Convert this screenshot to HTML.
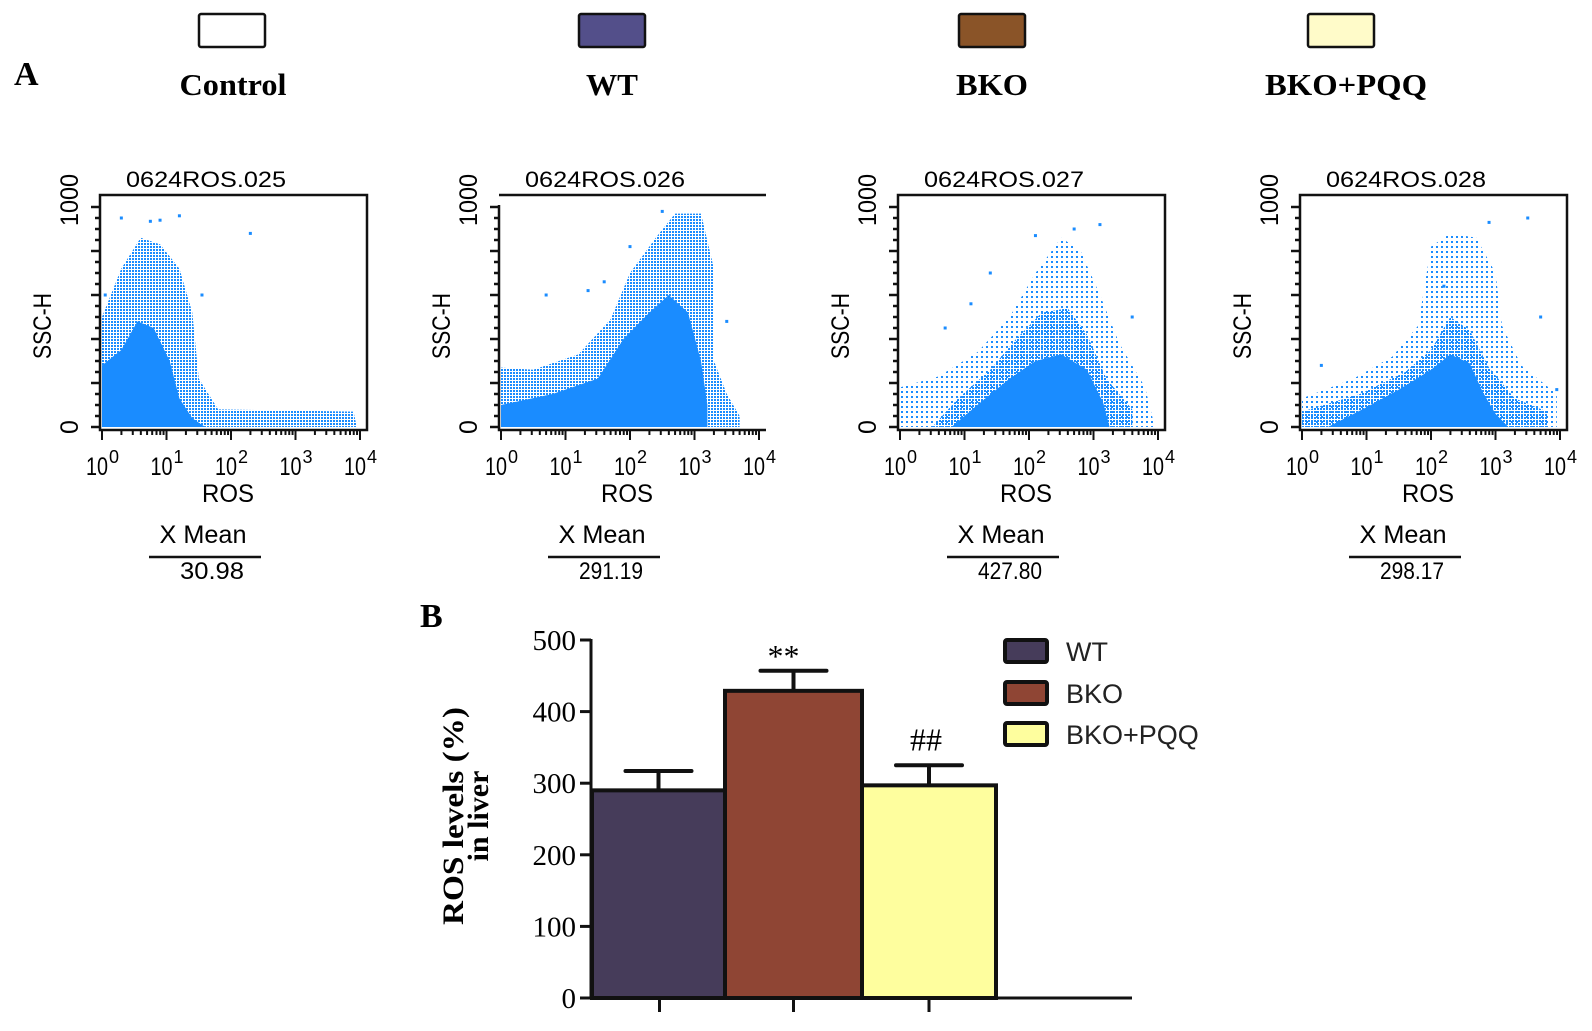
<!DOCTYPE html>
<html><head><meta charset="utf-8"><title>ROS flow cytometry and bar chart</title>
<style>
html,body{margin:0;padding:0;background:#fff;}
svg{display:block;}
.sans{font-family:"Liberation Sans",sans-serif;}
.serif{font-family:"Liberation Serif",serif;}
</style></head>
<body>
<svg id="fig" width="1592" height="1031" viewBox="0 0 1592 1031" xmlns="http://www.w3.org/2000/svg">
<defs>
<pattern id="midDots" width="3" height="3" patternUnits="userSpaceOnUse"><rect x="0" y="0" width="2" height="2" fill="#1a8cff"/></pattern>
<pattern id="lightDots" width="5" height="5" patternUnits="userSpaceOnUse"><rect x="1" y="1" width="2" height="2" fill="#1a8cff"/></pattern>
</defs>
<g id="header"></g>
<g id="panelA"></g>
<g id="panelB"></g>
</svg>
<script>
// ---------- Panel A data ----------
const groupNames = ["Control", "WT", "BKO", "BKO+PQQ"];
const groupColors = ["#ffffff", "#534f8a", "#8a5428", "#fffbc9"];
const plotTitles = ["0624ROS.025", "0624ROS.026", "0624ROS.027", "0624ROS.028"];
const xMeanValues = ["30.98", "291.19", "427.80", "298.17"];
const xTickExps = ["0", "1", "2", "3", "4"];
// scatter regions in data coords: [log10(ROS), SSC-H]
const outer1 = [[0,0],[0,500],[0.3,720],[0.6,860],[0.9,830],[1.2,720],[1.4,520],[1.5,220],[1.8,80],[3.9,70],[3.95,0]];
const inner1 = [[0,0],[0,420],[0.3,560],[0.6,650],[0.9,620],[1.15,480],[1.35,250],[1.6,60],[3.6,45],[3.6,0]];
const core1 = [[0,0],[0,280],[0.3,350],[0.55,480],[0.8,450],[1.05,300],[1.2,130],[1.4,40],[1.6,0]];
const dots1 = [[0.3,950],[0.9,940],[1.2,960],[0.75,935],[2.3,880],[0.05,600],[1.55,600]];
const outer2 = [[0,0],[0,270],[0.5,260],[1.2,330],[1.7,490],[2.0,700],[2.4,860],[2.7,970],[3.1,970],[3.3,720],[3.3,300],[3.5,150],[3.7,50],[3.7,0]];
const inner2 = [[0,0],[0,200],[0.7,210],[1.3,270],[1.8,420],[2.2,620],[2.5,760],[2.9,800],[3.1,600],[3.25,250],[3.4,60],[3.4,0]];
const core2 = [[0,0],[0,100],[0.8,150],[1.5,220],[1.9,400],[2.3,520],[2.6,600],[2.9,520],[3.1,300],[3.2,100],[3.2,0]];
const dots2 = [[0.7,600],[1.35,620],[1.6,660],[2.0,820],[3.5,480],[2.5,980]];
const outer3 = [[0,0],[0,180],[0.6,230],[1.2,340],[1.7,500],[2.1,700],[2.5,860],[2.8,800],[3.1,600],[3.4,380],[3.8,180],[3.95,0]];
const inner3 = [[0.5,0],[0.9,130],[1.4,260],[1.8,400],[2.2,520],[2.6,540],[2.9,420],[3.2,220],[3.6,80],[3.6,0]];
const core3 = [[0.8,0],[1.2,100],[1.7,220],[2.1,300],[2.5,330],[2.9,260],[3.15,110],[3.25,0]];
const dots3 = [[1.4,700],[2.1,870],[3.1,920],[3.6,500],[0.7,450],[1.1,560],[2.7,900]];
const outer4 = [[0,0],[0,130],[0.8,220],[1.4,320],[1.8,460],[2.0,820],[2.3,880],[2.7,860],[3.0,700],[3.1,460],[3.4,280],[3.95,150],[3.95,0]];
const inner4 = [[0,0],[0,70],[0.9,150],[1.6,250],[2.0,350],[2.3,500],[2.6,440],[2.9,270],[3.3,130],[3.8,70],[3.8,0]];
const core4 = [[0.4,0],[1.0,90],[1.5,170],[2.0,260],[2.3,330],[2.6,290],[2.8,160],[3.0,60],[3.2,0]];
const dots4 = [[3.5,950],[2.9,930],[3.7,500],[0.3,280],[2.2,640],[3.95,170]];
const outers = [outer1, outer2, outer3, outer4];
const inners = [inner1, inner2, inner3, inner4];
const cores = [core1, core2, core3, core4];
const dotsets = [dots1, dots2, dots3, dots4];

// ---------- Panel B data ----------
const barCategories = ["WT", "BKO", "BKO+PQQ"];
const barValues = [290, 429, 297];
const barErrors = [27, 28, 28];
const barSigLabels = ["", "**", "##"];
const barColors = ["#463c5a", "#8f4534", "#fefe9e"];
const yTicks = [0, 100, 200, 300, 400, 500];

const NS = "http://www.w3.org/2000/svg";
function mk(tag, parent, attrs, txt) {
  const e = document.createElementNS(NS, tag);
  for (const k in attrs) e.setAttribute(k, attrs[k]);
  if (txt !== undefined) e.textContent = txt;
  parent.appendChild(e);
  return e;
}

// ---------- Header ----------
const header = document.getElementById("header");
const boxX = [199, 579, 959, 1308];
const labelCx = [233, 612, 992, 1346];
const labelW = [107, 52, 72, 162];
for (let i = 0; i < groupNames.length; i++) {
  const b = mk("rect", header, {x: boxX[i], y: 14, width: 66, height: 33, rx: 2, fill: groupColors[i], stroke: "#111", "stroke-width": 2.5});
  
  
  const t = mk("text", header, {x: labelCx[i], y: 95, "text-anchor": "middle", "font-size": 31, "font-weight": "bold", class: "serif", textLength: labelW[i], lengthAdjust: "spacingAndGlyphs"}, groupNames[i]);
  
  
}
const letterA = mk("text", header, {x: 14, y: 85, "font-size": 34, "font-weight": "bold", class: "serif"}, "A");



// ---------- Panel A plots ----------
const panelA = document.getElementById("panelA");
const plotOffsets = [0, 399, 798, 1200];
function polyStr(pts, xs, ys) { return pts.map(p => xs(p[0]).toFixed(1) + "," + ys(p[1]).toFixed(1)).join(" "); }

for (let i = 0; i < 4; i++) {
  const ox = plotOffsets[i];
  const xs = v => ox + 102 + v * 64.5;
  const ys = v => 427 - v * 0.22;
  const g = mk("g", panelA, {});
  
  

  const o = mk("polygon", g, {points: polyStr(outers[i], xs, ys), fill: i < 2 ? "url(#midDots)" : "url(#lightDots)"});
  
  
  const inn = mk("polygon", g, {points: polyStr(inners[i], xs, ys), fill: "url(#midDots)"});
  
  
  const c = mk("polygon", g, {points: polyStr(cores[i], xs, ys), fill: "#1a8cff"});
  
  
  for (const d of dotsets[i]) {
    const dot = mk("rect", g, {x: xs(d[0]) - 1.5, y: ys(d[1]) - 1.5, width: 3, height: 3, fill: "#1a8cff"});
    
    
  }

  // frame
  const L = ox + 100, R = ox + 367, T = 195, B = 430;
  let frame;
  if (i === 1) {
    frame = mk("path", g, {d: `M${L},${T} H${R} M${L},${T + 10} V${B} H${R}`, fill: "none", stroke: "#111", "stroke-width": 2.5});
  } else {
    frame = mk("rect", g, {x: L, y: T, width: R - L, height: B - T, fill: "none", stroke: "#111", "stroke-width": 2.5});
  }
  
  

  // y ticks
  for (let v = 0; v <= 1000; v += 50) {
    const len = (v % 200 === 0 || v === 1000) ? 9 : 5;
    const tk = mk("line", g, {x1: L, x2: L - len, y1: ys(v), y2: ys(v), stroke: "#111", "stroke-width": 2.5});
    
    
  }
  // x ticks (log)
  for (let dec = 0; dec < 4; dec++) {
    for (let m = 1; m <= 9; m++) {
      const lv = dec + Math.log10(m);
      const len = m === 1 ? 10 : 5;
      const tk = mk("line", g, {x1: xs(lv), x2: xs(lv), y1: B, y2: B + len, stroke: "#111", "stroke-width": 2});
      
      
    }
  }
  const tk4 = mk("line", g, {x1: xs(4), x2: xs(4), y1: B, y2: B + 10, stroke: "#111", "stroke-width": 2});
  
  

  // x tick labels
  for (let k = 0; k < xTickExps.length; k++) {
    const t = mk("text", g, {x: xs(k) - 16, y: 475, "font-size": 25, class: "sans", textLength: 22, lengthAdjust: "spacingAndGlyphs"}, "10");
    
    
    const s = mk("text", g, {x: xs(k) + 7, y: 463, "font-size": 18, class: "sans"}, xTickExps[k]);
    
    
  }
  const title = mk("text", g, {x: ox + 126, y: 187, "font-size": 22, class: "sans", textLength: 160, lengthAdjust: "spacingAndGlyphs"}, plotTitles[i]);
  
  
  const y1000 = mk("text", g, {x: 0, y: 0, "font-size": 25, class: "sans", "text-anchor": "middle", textLength: 52, lengthAdjust: "spacingAndGlyphs", transform: `translate(${ox + 78},${200}) rotate(-90)`}, "1000");
  
  
  const y0 = mk("text", g, {x: 0, y: 0, "font-size": 25, class: "sans", "text-anchor": "middle", transform: `translate(${ox + 78},${427}) rotate(-90)`}, "0");
  
  
  const yl = mk("text", g, {x: 0, y: 0, "font-size": 25, class: "sans", "text-anchor": "middle", textLength: 66, lengthAdjust: "spacingAndGlyphs", transform: `translate(${ox + 51},${326}) rotate(-90)`}, "SSC-H");
  
  
  const xl = mk("text", g, {x: ox + 228, y: 502, "font-size": 25, class: "sans", "text-anchor": "middle", textLength: 52, lengthAdjust: "spacingAndGlyphs"}, "ROS");
  
  
  const xm = mk("text", g, {x: ox + 203, y: 543, "font-size": 25, class: "sans", "text-anchor": "middle", textLength: 87, lengthAdjust: "spacingAndGlyphs"}, "X Mean");
  
  
  const ln = mk("line", g, {x1: ox + 149, x2: ox + 261, y1: 557, y2: 557, stroke: "#111", "stroke-width": 2.5});
  
  
  const mv = mk("text", g, {x: ox + 212, y: 579, "font-size": 24, class: "sans", "text-anchor": "middle", textLength: 64, lengthAdjust: "spacingAndGlyphs"}, xMeanValues[i]);
  
  
}

// ---------- Panel B ----------
const pb = document.getElementById("panelB");
const axX = 591, y0px = 998, pxPerUnit = (998 - 640) / 500;
const ysB = v => y0px - v * pxPerUnit;
const barLeft = [592, 725, 862], barRight = [725, 862, 996];
const letterB = mk("text", pb, {x: 420, y: 627, "font-size": 34, "font-weight": "bold", class: "serif"}, "B");



for (let i = 0; i < barCategories.length; i++) {
  const xc = (barLeft[i] + barRight[i]) / 2;
  const top = ysB(barValues[i] + barErrors[i]);
  const el = mk("path", pb, {d: `M${xc},${ysB(barValues[i])} V${top} M${xc - 33},${top} H${xc + 33}`, stroke: "#111", "stroke-width": 4, fill: "none", "stroke-linecap": "round"});
  
  
  const r = mk("rect", pb, {x: barLeft[i], y: ysB(barValues[i]), width: barRight[i] - barLeft[i], height: y0px - ysB(barValues[i]), fill: barColors[i], stroke: "#111", "stroke-width": 4});
  
  
  if (barSigLabels[i]) {
    const s = mk("text", pb, {x: xc - (i === 1 ? 10 : 3), y: top - (i === 1 ? 4 : 15), "font-size": 32, class: "serif", "text-anchor": "middle"}, barSigLabels[i]);
    
    
  }
  const tk = mk("line", pb, {x1: xc + (i === 0 ? 1 : 0), x2: xc + (i === 0 ? 1 : 0), y1: y0px, y2: 1012, stroke: "#111", "stroke-width": 3});
  
  
}
const yAxis = mk("line", pb, {x1: axX, x2: axX, y1: ysB(500) - 1, y2: y0px, stroke: "#111", "stroke-width": 3});


const xAxis = mk("line", pb, {x1: 580, x2: 1132, y1: y0px, y2: y0px, stroke: "#111", "stroke-width": 3});


for (const v of yTicks) {
  const t = mk("line", pb, {x1: 580, x2: axX, y1: ysB(v), y2: ysB(v), stroke: "#111", "stroke-width": 3});
  
  
  const lb = mk("text", pb, {x: 576, y: ysB(v) + 10, "font-size": 29, class: "serif", "text-anchor": "end"}, String(v));
  
  
}
const yt1 = mk("text", pb, {x: 0, y: 0, "font-size": 30, "font-weight": "bold", class: "serif", "text-anchor": "middle", textLength: 218, lengthAdjust: "spacingAndGlyphs", transform: "translate(463,816) rotate(-90)"}, "ROS levels (%)");


const yt2 = mk("text", pb, {x: 0, y: 0, "font-size": 30, "font-weight": "bold", class: "serif", "text-anchor": "middle", transform: "translate(488,816) rotate(-90)"}, "in liver");



const legY = [640, 682, 723];
for (let i = 0; i < barCategories.length; i++) {
  const b = mk("rect", pb, {x: 1005, y: legY[i], width: 42, height: 22, rx: 2, fill: barColors[i], stroke: "#111", "stroke-width": 4});
  
  
  const t = mk("text", pb, {x: 1066, y: legY[i] + 21, "font-size": 27, class: "sans", fill: "#222"}, barCategories[i]);
  
  
}
</script>
</body></html>
